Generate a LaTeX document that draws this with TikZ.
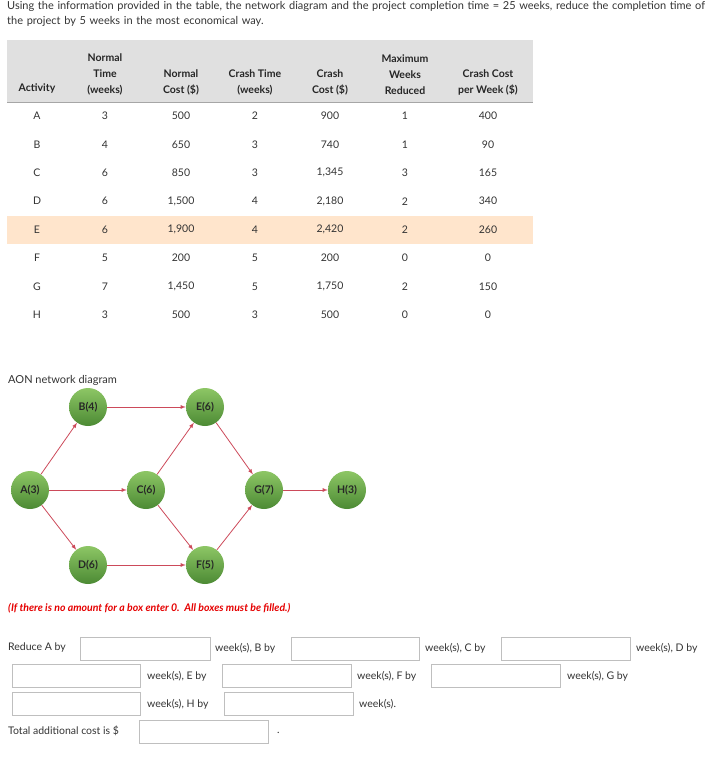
\documentclass[tikz,border=0pt]{standalone}
\usepackage{fontspec}
\setmainfont{Lato}
\definecolor{gtop}{HTML}{8DC665}
\definecolor{gbot}{HTML}{4C8A34}
\definecolor{arrc}{HTML}{CC4A5A}
\begin{document}
\begin{tikzpicture}[x=1pt,y=-1pt,
  txt/.style={font=\fontsize{10.5}{12}\selectfont,text=black!80,inner sep=0pt},
  hd/.style={font=\fontsize{10.5}{16}\selectfont\bfseries,text=black!85,align=center,inner sep=0pt},
  cell/.style={font=\fontsize{10.5}{12}\selectfont,text=black!80,inner sep=0pt},
  act/.style={circle,minimum size=38pt,inner sep=0pt,top color=gtop,bottom color=gbot,font=\fontsize{10.5}{12}\selectfont\bfseries,text=black!85},
  arr/.style={draw=arrc,line width=0.8pt,-latex},
  box/.style={draw=black!25,line width=0.8pt,fill=white}]
\useasboundingbox (0,0) rectangle (724,758);
\node[txt,anchor=north west,align=left,text width=712pt,font=\fontsize{11}{15}\selectfont] (title) at (7,1)
 {Using the information provided in the table, the network diagram and the project completion time = 25 weeks, reduce the completion time of the project by 5 weeks in the most economical way.};
\fill[black!12] (7,40) rectangle (533,102);
\draw[black!35,line width=0.6pt] (7,102) -- (533,102);
\fill[orange!20!white] (7,216) rectangle (533,244);
\node[hd] (h1) at (37,88) {Activity};
\node[hd,anchor=south] (h2) at (105,95) {Normal\\Time\\(weeks)};
\node[hd,anchor=south] (h3) at (181,95) {Normal\\Cost (\$)};
\node[hd,anchor=south] (h4) at (255,95) {Crash Time\\(weeks)};
\node[hd,anchor=south] (h5) at (330,95) {Crash\\Cost (\$)};
\node[hd,anchor=south] (h6) at (405,95) {Maximum\\Weeks\\Reduced};
\node[hd,anchor=south] (h7) at (488,95) {Crash Cost\\per Week (\$)};
\foreach \a/\b/\c/\d/\e/\f/\g [count=\i from 0] in {A/3/500/2/900/1/400,B/4/650/3/740/1/90,C/6/850/3/{1,345}/3/165,D/6/{1,500}/4/{2,180}/2/340,E/6/{1,900}/4/{2,420}/2/260,F/5/200/5/200/0/0,G/7/{1,450}/5/{1,750}/2/150,H/3/500/3/500/0/0}{
  \pgfmathsetmacro\yy{116+28.4*\i}
  \node[cell] (r\i a) at (37,\yy) {\a};
  \node[cell] (r\i b) at (105,\yy) {\b};
  \node[cell] (r\i c) at (181,\yy) {\c};
  \node[cell] (r\i d) at (255,\yy) {\d};
  \node[cell] (r\i e) at (330,\yy) {\e};
  \node[cell] (r\i f) at (405,\yy) {\f};
  \node[cell] (r\i g) at (488,\yy) {\g};
}
\node[txt,anchor=west,font=\fontsize{11}{12}\selectfont] (aon) at (8,380) {AON network diagram};
\node[act] (B) at (88,407) {B(4)};
\node[act] (E) at (205,407) {E(6)};
\node[act] (A) at (30,490) {A(3)};
\node[act] (C) at (146,490) {C(6)};
\node[act] (G) at (264,490) {G(7)};
\node[act] (H) at (347,490) {H(3)};
\node[act] (D) at (88,565) {D(6)};
\node[act] (F) at (205,565) {F(5)};
\draw[arr] (A) -- (B); \draw[arr] (A) -- (C); \draw[arr] (A) -- (D);
\draw[arr] (B) -- (E); \draw[arr] (C) -- (E); \draw[arr] (C) -- (F);
\draw[arr] (D) -- (F); \draw[arr] (E) -- (G); \draw[arr] (F) -- (G);
\draw[arr] (G) -- (H);
\node[txt,anchor=west,text=red!90!black,font=\fontsize{10.5}{12}\selectfont\bfseries\itshape] (note) at (8,608) {(If there is no amount for a box enter 0.\ \ All boxes must be filled.)};
% form
\node[txt,anchor=west] (l1) at (8,648) {Reduce A by};
\draw[box] (80,637) rectangle (210,660);
\node[txt,anchor=west] (l2) at (215,648) {week(s), B by};
\draw[box] (291,637) rectangle (419,660);
\node[txt,anchor=west] (l3) at (425,648) {week(s), C by};
\draw[box] (501,637) rectangle (630,660);
\node[txt,anchor=west] (l4) at (636,648) {week(s), D by};
\draw[box] (12,664) rectangle (140,687);
\node[txt,anchor=west] (l5) at (147,676) {week(s), E by};
\draw[box] (222,664) rectangle (351,687);
\node[txt,anchor=west] (l6) at (357,676) {week(s), F by};
\draw[box] (431,664) rectangle (560,687);
\node[txt,anchor=west] (l7) at (567,676) {week(s), G by};
\draw[box] (12,692) rectangle (140,715);
\node[txt,anchor=west] (l8) at (147,704) {week(s), H by};
\draw[box] (224,692) rectangle (353,715);
\node[txt,anchor=west] (l9) at (359,704) {week(s).};
\node[txt,anchor=west] (l10) at (8,731) {Total additional cost is \$};
\draw[box] (139,720) rectangle (268,743);
\node[txt,anchor=west] (l11) at (277,733) {.};
\end{tikzpicture}
\end{document}
